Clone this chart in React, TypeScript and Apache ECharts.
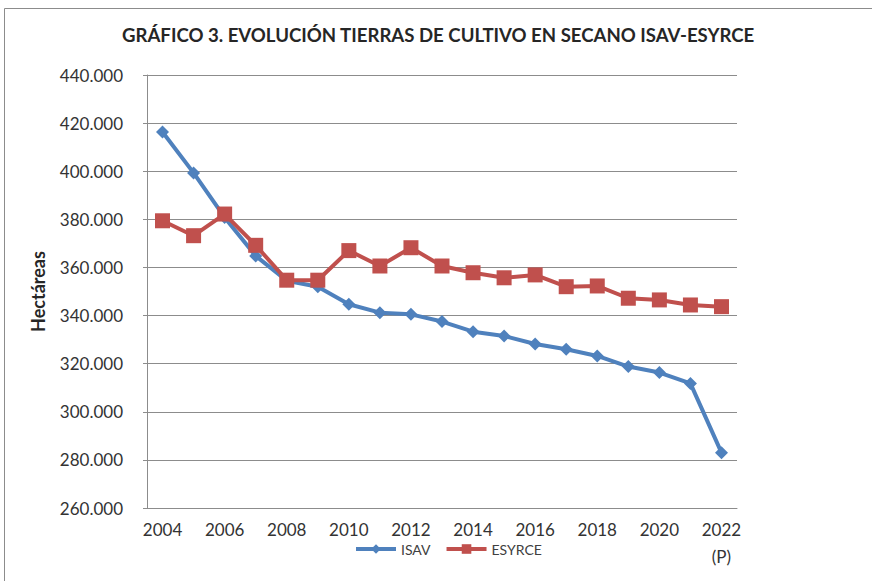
import React, { useEffect, useRef } from "react";
import * as echarts from "echarts";

const years = ["2004","2005","2006","2007","2008","2009","2010","2011","2012","2013","2014","2015","2016","2017","2018","2019","2020","2021","2022"];
const isav = [416300,399300,380800,364800,354500,352000,344700,341200,340500,337500,333300,331500,328200,326000,323200,318800,316300,311800,283000];
const esyrce = [379400,373200,382200,369200,354700,354700,367000,360600,368200,360600,357800,355700,356900,352000,352300,347200,346500,344400,343700];
const yTicks = { min: 260000, max: 440000, interval: 20000 };
const titleText = "GRÁFICO 3. EVOLUCIÓN TIERRAS DE CULTIVO EN SECANO ISAV-ESYRCE";

const fmt = (v: number) => {
  const s = Math.round(v).toString();
  return s.replace(/\B(?=(\d{3})+(?!\d))/g, ".");
};

export default function App() {
  const ref = useRef<HTMLDivElement>(null);
  useEffect(() => {
    const chart = echarts.init(ref.current!, null, { renderer: "svg" });
    const font = "Lato, 'Noto Sans', sans-serif";
    chart.setOption({
      animation: false,
      backgroundColor: "#ffffff",
      textStyle: { fontFamily: font },
      title: {
        text: titleText,
        left: 122,
        top: 25,
        padding: 0,
        textStyle: { fontFamily: font, fontSize: 18.6, fontWeight: "bold", color: "#262626" },
      },
      graphic: [
        { type: "line", shape: { x1: 4.5, y1: 8.5, x2: 872, y2: 8.5 }, style: { stroke: "#8c8c8c", lineWidth: 1 } },
        { type: "line", shape: { x1: 4.5, y1: 8.5, x2: 4.5, y2: 581 }, style: { stroke: "#8c8c8c", lineWidth: 1 } },
      ],
      legend: {
        top: 542,
        left: 354,
        padding: 0,
        itemWidth: 40,
        itemHeight: 12,
        itemGap: 14,
        lineStyle: { width: 4 },
        textStyle: { fontFamily: font, fontSize: 14, color: "#404040" },
        data: ["ISAV", "ESYRCE"],
      },
      grid: { left: 147, right: 135, top: 75, bottom: 73, containLabel: false },
      xAxis: {
        type: "category",
        data: years,
        boundaryGap: true,
        axisLine: { lineStyle: { color: "#8c8c8c", width: 1 } },
        axisTick: { show: false },
        axisLabel: {
          interval: 1,
          fontFamily: font,
          fontSize: 17,
          color: "#333333",
          margin: 8,
          lineHeight: 27,
          formatter: (v: string) => (v === "2022" ? "2022\n(P)" : v),
        },
      },
      yAxis: {
        type: "value",
        min: yTicks.min,
        max: yTicks.max,
        interval: yTicks.interval,
        name: "Hectáreas",
        nameLocation: "middle",
        nameGap: 100,
        nameTextStyle: { fontFamily: font, fontSize: 18, fontWeight: "bold", color: "#262626" },
        axisLine: { show: true, lineStyle: { color: "#8c8c8c", width: 1 } },
        axisTick: { show: true, length: 4, lineStyle: { color: "#8c8c8c" } },
        splitLine: { lineStyle: { color: "#8c8c8c", width: 1 } },
        axisLabel: { fontFamily: font, fontSize: 17, color: "#333333", margin: 24, formatter: fmt },
      },
      series: [
        {
          name: "ISAV",
          type: "line",
          data: isav,
          symbol: "diamond",
          symbolSize: 13,
          lineStyle: { color: "#4F81BD", width: 4 },
          itemStyle: { color: "#4F81BD" },
        },
        {
          name: "ESYRCE",
          type: "line",
          data: esyrce,
          symbol: "rect",
          symbolSize: 15,
          lineStyle: { color: "#C0504D", width: 4 },
          itemStyle: { color: "#C0504D" },
        },
      ],
    });
    return () => chart.dispose();
  }, []);
  return <div ref={ref} style={{ position: "fixed", left: 0, top: 0, width: 872, height: 581 }} />;
}
